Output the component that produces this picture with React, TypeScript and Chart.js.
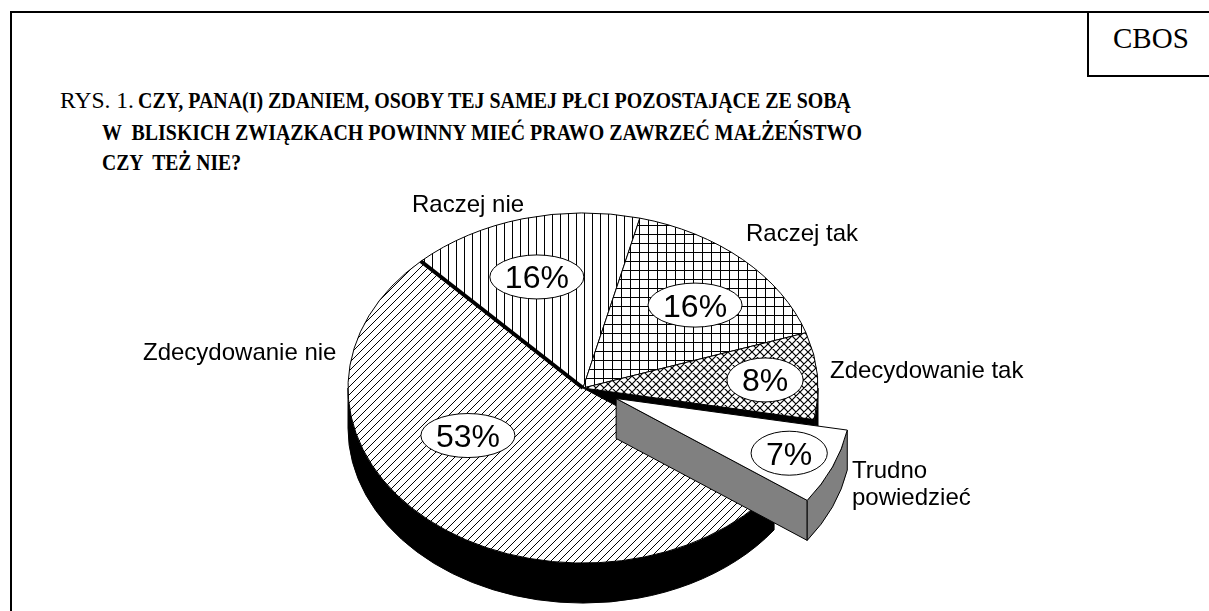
import React, { useEffect, useLayoutEffect, useRef } from "react";
import { Chart, registerables } from "chart.js";

Chart.register(...registerables);

// ---------- data ----------
const categories = ["Raczej nie", "Raczej tak", "Zdecydowanie tak", "Trudno powiedzieć", "Zdecydowanie nie"];
const values = [16, 16, 8, 7, 53];
const titlePrefix = "RYS. 1.";
const titleLines = [
  "CZY, PANA(I) ZDANIEM, OSOBY TEJ SAMEJ PŁCI POZOSTAJĄCE ZE SOBĄ",
  "W  BLISKICH ZWIĄZKACH POWINNY MIEĆ PRAWO ZAWRZEĆ MAŁŻEŃSTWO",
  "CZY  TEŻ NIE?",
];
const sourceLabel = "CBOS";

// ---------- styles / layout ----------
const fillKinds = ["vertical", "grid", "diamond", "none", "diagonal"];
const sideColors = ["#000000", "#000000", "#000000", "#808080", "#000000"];
const explodePx = [0, 0, 0, 36, 0];
const startEdgeWidth = [4, 1, 1, 1, 1];
const pctAngleShift = [-2.4, 2.4, 0.6, 0, 20];
const pctRadiusFrac = [0.664, 0.672, 0.776, 0.8, 0.56];
const outerLabelPos = [
  [412, 212],
  [746, 241],
  [830, 378],
  [852, 478],
  [143, 360],
];
const outerLabelWrap = [false, false, false, true, false];
const TILT = 0.745;
const DEPTH = 40;
const RADIUS = 235;
const ROTATION = -43.6;
const W = 1209;
const H = 611;

function makePattern(kind: string): any {
  if (kind === "none") return "#ffffff";
  const s = kind === "diagonal" ? 8 : kind === "grid" ? 9 : 8;
  const c = document.createElement("canvas");
  c.width = s;
  c.height = s;
  const g = c.getContext("2d")!;
  g.fillStyle = "#ffffff";
  g.fillRect(0, 0, s, s);
  g.strokeStyle = "#000000";
  g.lineWidth = 1;
  g.beginPath();
  if (kind === "vertical") {
    g.moveTo(0.5, 0);
    g.lineTo(0.5, s);
  } else if (kind === "grid") {
    g.moveTo(0.5, 0);
    g.lineTo(0.5, s);
    g.moveTo(0, 0.5);
    g.lineTo(s, 0.5);
  } else if (kind === "diagonal" || kind === "diamond") {
    g.lineWidth = kind === "diagonal" ? 1 : 1.2;
    for (let k = -1; k <= 1; k++) {
      g.moveTo(k * s, s);
      g.lineTo(k * s + s, 0);
      if (kind === "diamond") {
        g.moveTo(k * s, 0);
        g.lineTo(k * s + s, s);
      }
    }
  }
  g.stroke();
  return g.createPattern(c, "repeat");
}

const pie3d = {
  id: "pie3d",
  beforeDatasetsDraw(chart: any) {
    const ctx = chart.ctx as CanvasRenderingContext2D;
    const arcs = chart.getDatasetMeta(0).data as any[];
    const n = arcs.length;
    const g = arcs.map((arc: any, i: number) => {
      const p = arc.getProps(["x", "y", "startAngle", "endAngle", "outerRadius"], true);
      const mid = (p.startAngle + p.endAngle) / 2;
      const e = explodePx[i];
      return {
        i,
        a0: p.startAngle,
        a1: p.endAngle,
        mid,
        R: p.outerRadius,
        cx: p.x + e * Math.cos(mid),
        cy: p.y + e * Math.sin(mid) * TILT,
        fill: arc.options.backgroundColor,
        stroke: arc.options.borderColor,
        side: sideColors[i],
        exploded: e > 0,
      };
    });
    const rim = (s: any, t: number, dz: number) => [
      s.cx + s.R * Math.cos(t),
      s.cy + s.R * TILT * Math.sin(t) + dz,
    ];
    ctx.save();
    ctx.lineJoin = "round";

    const drawWalls = (s: any) => {
      ctx.lineWidth = 1;
      ctx.strokeStyle = "#000000";
      ctx.fillStyle = s.side;
      const prev = g[(s.i - 1 + n) % n];
      const next = g[(s.i + 1) % n];
      const faces: number[] = [];
      if (Math.cos(s.a1) > 0 && (s.exploded || next.exploded)) faces.push(s.a1);
      if (Math.cos(s.a0) < 0 && (s.exploded || prev.exploded)) faces.push(s.a0);
      for (const a of faces) {
        const [px, py] = rim(s, a, 0);
        ctx.beginPath();
        ctx.moveTo(s.cx, s.cy);
        ctx.lineTo(px, py);
        ctx.lineTo(px, py + DEPTH);
        ctx.lineTo(s.cx, s.cy + DEPTH);
        ctx.closePath();
        ctx.fill();
        ctx.stroke();
      }
      for (let k = -1; k <= 1; k++) {
        const lo = Math.max(s.a0, 2 * Math.PI * k);
        const hi = Math.min(s.a1, 2 * Math.PI * k + Math.PI);
        if (hi > lo) {
          ctx.beginPath();
          ctx.ellipse(s.cx, s.cy, s.R, s.R * TILT, 0, lo, hi);
          ctx.ellipse(s.cx, s.cy + DEPTH, s.R, s.R * TILT, 0, hi, lo, true);
          ctx.closePath();
          ctx.fill();
          ctx.stroke();
        }
      }
    };
    const drawTop = (s: any) => {
      ctx.beginPath();
      ctx.moveTo(s.cx, s.cy);
      ctx.ellipse(s.cx, s.cy, s.R, s.R * TILT, 0, s.a0, s.a1);
      ctx.closePath();
      ctx.fillStyle = s.fill;
      ctx.fill();
      ctx.lineWidth = 1;
      ctx.strokeStyle = s.stroke;
      ctx.stroke();
    };
    const drawSeam = (s: any) => {
      if (startEdgeWidth[s.i] <= 1) return;
      const [px, py] = rim(s, s.a0, 0);
      ctx.beginPath();
      ctx.moveTo(s.cx, s.cy);
      ctx.lineTo(px, py);
      ctx.lineWidth = startEdgeWidth[s.i];
      ctx.strokeStyle = "#000000";
      ctx.lineCap = "butt";
      ctx.stroke();
    };

    const base = g.filter((s) => !s.exploded);
    const exp = g.filter((s) => s.exploded);
    base.forEach(drawWalls);
    base.forEach(drawTop);
    base.forEach(drawSeam);
    exp.forEach((s) => {
      drawWalls(s);
      drawTop(s);
      drawSeam(s);
    });

    // percentage labels in ellipses
    ctx.font = '32px "Liberation Sans", Arial, sans-serif';
    ctx.textAlign = "center";
    ctx.textBaseline = "alphabetic";
    g.forEach((s) => {
      const ang = s.mid + (pctAngleShift[s.i] * Math.PI) / 180;
      const r = s.R * pctRadiusFrac[s.i];
      const x = s.cx + r * Math.cos(ang);
      const y = s.cy + r * TILT * Math.sin(ang);
      const txt = values[s.i] + "%";
      const tw = ctx.measureText(txt).width;
      ctx.beginPath();
      ctx.ellipse(x, y, (tw + 30) / 2, 22, 0, 0, Math.PI * 2);
      ctx.fillStyle = "#ffffff";
      ctx.fill();
      ctx.lineWidth = 1;
      ctx.strokeStyle = "#000000";
      ctx.stroke();
      ctx.fillStyle = "#000000";
      ctx.fillText(txt, x, y + 11.5);
    });

    // category labels
    ctx.font = '24px "Liberation Sans", Arial, sans-serif';
    ctx.textAlign = "left";
    ctx.fillStyle = "#000000";
    categories.forEach((c, i) => {
      const [x, y] = outerLabelPos[i];
      const lines = outerLabelWrap[i] ? c.split(" ") : [c];
      lines.forEach((l, j) => ctx.fillText(l, x, y + j * 27));
    });
    ctx.restore();
    return false;
  },
};

function FitText(props: { text: string; left: number; baseline: number; width: number; bold?: boolean; size: number }) {
  const ref = useRef<HTMLSpanElement>(null);
  useLayoutEffect(() => {
    const el = ref.current;
    if (!el) return;
    el.style.transform = "none";
    const w = el.getBoundingClientRect().width;
    if (w > 0) el.style.transform = `scaleX(${props.width / w})`;
  }, [props.text, props.width]);
  return (
    <span
      ref={ref}
      style={{
        position: "absolute",
        left: props.left,
        top: props.baseline - props.size * 0.837,
        fontFamily: '"Liberation Serif", "Times New Roman", serif',
        fontSize: props.size,
        lineHeight: `${props.size}px`,
        fontWeight: props.bold ? 700 : 400,
        whiteSpace: "pre",
        transformOrigin: "left top",
        display: "inline-block",
        color: "#000",
      }}
    >
      {props.text}
    </span>
  );
}

export default function App() {
  const canvasRef = useRef<HTMLCanvasElement>(null);
  useEffect(() => {
    const canvas = canvasRef.current;
    if (!canvas) return;
    const patterns = fillKinds.map(makePattern);
    const chart = new Chart(canvas, {
      type: "pie",
      data: {
        labels: categories,
        datasets: [
          {
            data: values,
            backgroundColor: patterns,
            borderColor: "#000000",
            borderWidth: 1,
          },
        ],
      },
      options: {
        responsive: false,
        animation: false,
        rotation: ROTATION,
        radius: RADIUS,
        layout: { padding: { left: 0, right: 43, top: 165, bottom: 0 } },
        plugins: { legend: { display: false }, tooltip: { enabled: false } },
      } as any,
      plugins: [pie3d as any],
    });
    return () => chart.destroy();
  }, []);

  return (
    <div style={{ position: "fixed", left: 0, top: 0, width: W, height: H, background: "#fff", overflow: "hidden" }}>
      <div
        style={{
          position: "absolute",
          left: 10,
          top: 11,
          width: 1400,
          height: 800,
          borderTop: "2px solid #000",
          borderLeft: "2px solid #000",
        }}
      />
      <div
        style={{
          position: "absolute",
          left: 1087,
          top: 11,
          width: 200,
          height: 64,
          borderLeft: "2px solid #000",
          borderBottom: "2px solid #000",
        }}
      />
      <span
        style={{
          position: "absolute",
          left: 1113,
          top: 50 - 29 * 0.891,
          fontFamily: '"Liberation Serif", "Times New Roman", serif',
          fontSize: 29,
          lineHeight: "29px",
          whiteSpace: "pre",
          color: "#000",
        }}
      >
        {sourceLabel}
      </span>
      <FitText text={titlePrefix} left={60} baseline={108} width={74} size={24} />
      <FitText text={titleLines[0]} left={138} baseline={108} width={713} size={24} bold />
      <FitText text={titleLines[1]} left={102} baseline={140} width={760} size={24} bold />
      <FitText text={titleLines[2]} left={102} baseline={170} width={139} size={24} bold />
      <canvas ref={canvasRef} width={W} height={H} style={{ position: "absolute", left: 0, top: 0, display: "block" }} />
    </div>
  );
}
